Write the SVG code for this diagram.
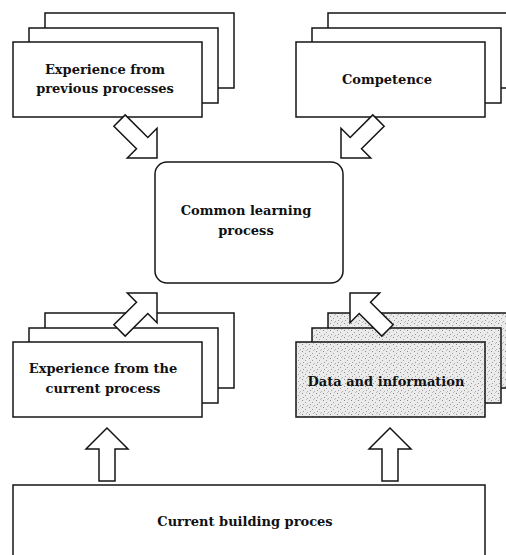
<svg xmlns="http://www.w3.org/2000/svg" width="506" height="555" viewBox="0 0 506 555">
<style>
.box{fill:#fff;stroke:#151515;stroke-width:1.5}
.dot{fill:url(#stip);stroke:#151515;stroke-width:1.5}
.arrow{fill:#fff;stroke:#151515;stroke-width:1.5;stroke-linejoin:miter}
.t{font-family:"DejaVu Serif","Liberation Serif",serif;font-weight:bold;font-size:13px;fill:#111;text-anchor:middle}
</style>
<defs>
<pattern id="stip" width="7" height="7" patternUnits="userSpaceOnUse">
<rect width="7" height="7" fill="#ebebeb"/>
<rect x="1" y="1" width="1" height="1" fill="#8a8a8a"/>
<rect x="4" y="3" width="1" height="1" fill="#a0a0a0"/>
<rect x="2" y="5" width="1" height="1" fill="#999"/>
<rect x="6" y="6" width="1" height="1" fill="#b0b0b0"/>
<rect x="5" y="0" width="1" height="1" fill="#bbb"/>
</pattern>
<path id="arr" d="M0,0 L-21,-21 L-21,-8 L-53,-8 L-53,8 L-21,8 L-21,21 Z"/>
</defs>
<rect width="506" height="555" fill="#fff"/>

<g id="experience-previous">
<rect class="box" x="45" y="13" width="189" height="75"/>
<rect class="box" x="29" y="28" width="189" height="75"/>
<rect class="box" x="13" y="42" width="189" height="75"/>
<text class="t" x="105" y="74">Experience from</text>
<text class="t" x="105" y="93">previous processes</text>
</g>

<g id="competence">
<rect class="box" x="328" y="13" width="189" height="75"/>
<rect class="box" x="312" y="28" width="189" height="75"/>
<rect class="box" x="296" y="42" width="189" height="75"/>
<text class="t" x="387" y="84">Competence</text>
</g>

<g id="common-learning">
<rect class="box" x="155" y="162" width="188" height="121" rx="12" ry="12"/>
<text class="t" x="246" y="215">Common learning</text>
<text class="t" x="246" y="235">process</text>
</g>

<g id="experience-current">
<rect class="box" x="45" y="313" width="189" height="75"/>
<rect class="box" x="29" y="328" width="189" height="75"/>
<rect class="box" x="13" y="342" width="189" height="75"/>
<text class="t" x="103" y="373">Experience from the</text>
<text class="t" x="103" y="393">current process</text>
</g>

<g id="data-information">
<rect class="dot" x="328" y="313" width="189" height="75"/>
<rect class="dot" x="312" y="328" width="189" height="75"/>
<rect class="dot" x="296" y="342" width="189" height="75"/>
<text class="t" x="386" y="386">Data and information</text>
</g>

<g id="current-building">
<rect class="box" x="13" y="485" width="472" height="90"/>
<text class="t" x="245" y="526">Current building proces</text>
</g>

<g id="connectors">
<use href="#arr" class="arrow" transform="translate(157,158) rotate(45)"/>
<use href="#arr" class="arrow" transform="translate(341,158) rotate(135)"/>
<use href="#arr" class="arrow" transform="translate(157,293) rotate(-45)"/>
<use href="#arr" class="arrow" transform="translate(350,293) rotate(-135)"/>
<use href="#arr" class="arrow" transform="translate(107,428) rotate(-90)"/>
<use href="#arr" class="arrow" transform="translate(390,428) rotate(-90)"/>
</g>
</svg>
